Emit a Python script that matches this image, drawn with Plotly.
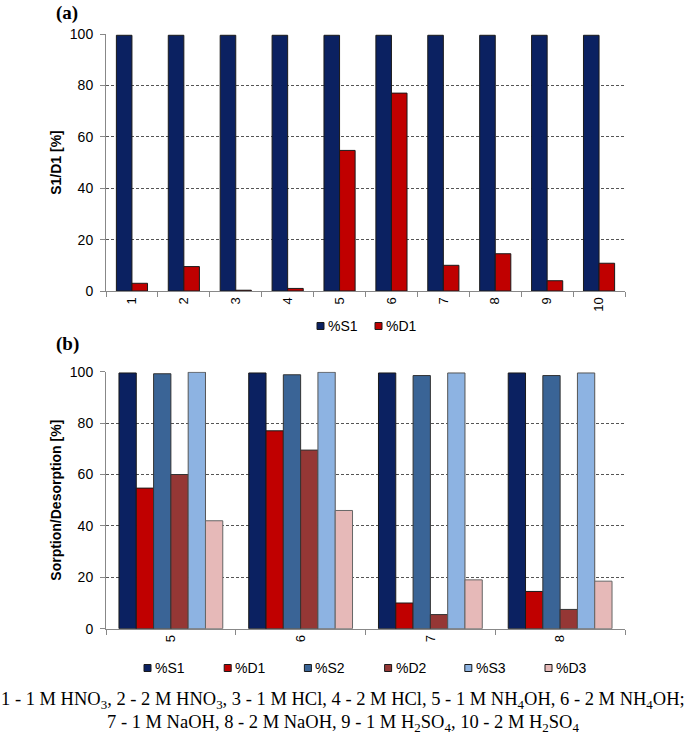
import plotly.graph_objects as go

# ---------------- data ----------------
cats_a = ["1", "2", "3", "4", "5", "6", "7", "8", "9", "10"]
s1_a = [99.5, 99.5, 99.5, 99.5, 99.5, 99.5, 99.5, 99.5, 99.5, 99.5]
d1_a = [3.0, 9.5, 0.3, 1.0, 54.7, 77.0, 10.0, 14.5, 4.0, 10.8]

cats_b = ["5", "6", "7", "8"]
s1_b = [99.5, 99.5, 99.5, 99.5]
d1_b = [54.7, 77.0, 10.0, 14.5]
s2_b = [99.2, 98.8, 98.5, 98.5]
d2_b = [60.0, 69.5, 5.5, 7.5]
s3_b = [99.8, 99.8, 99.5, 99.5]
d3_b = [42.0, 46.0, 19.0, 18.5]

names_a = ["%S1", "%D1"]
names_b = ["%S1", "%D1", "%S2", "%D2", "%S3", "%D3"]
yticks = [0, 20, 40, 60, 80, 100]

# ---------------- style ----------------
W, H = 685, 734
SANS = "Liberation Sans, Arial, sans-serif"
SERIF = "Liberation Serif, Times New Roman, serif"
COLORS = {"%S1": "#0b2161", "%D1": "#c00000", "%S2": "#3a6496",
          "%D2": "#953735", "%S3": "#8db3e2", "%D3": "#e6b9b8"}
OUTLINE = {"%S1": "#1a1a1a", "%D1": "#1a1a1a", "%S2": "#333333",
           "%D2": "#333333", "%S3": "#555555", "%D3": "#666666"}
GROUP_A = 0.6   # fraction of a category occupied by the bar group (top)
GROUP_B = 0.8   # same for bottom panel


def px_x(x):
    return x / W


def px_y(y):
    return 1 - y / H


fig = go.Figure()

bw_a = GROUP_A / len(names_a)
for i, (name, vals) in enumerate(zip(names_a, [s1_a, d1_a])):
    fig.add_trace(go.Bar(x=cats_a, y=vals, name=name, xaxis="x", yaxis="y", showlegend=False,
                         width=bw_a, offset=-GROUP_A / 2 + i * bw_a,
                         marker=dict(color=COLORS[name], line=dict(color=OUTLINE[name], width=1))))

bw_b = GROUP_B / len(names_b)
for i, (name, vals) in enumerate(zip(names_b, [s1_b, d1_b, s2_b, d2_b, s3_b, d3_b])):
    fig.add_trace(go.Bar(x=cats_b, y=vals, name=name, xaxis="x2", yaxis="y2", showlegend=False,
                         width=bw_b, offset=-GROUP_B / 2 + i * bw_b,
                         marker=dict(color=COLORS[name], line=dict(color=OUTLINE[name], width=1))))

xdom = [px_x(106), px_x(625)]
axis_common_x = dict(type="category", showline=True, linecolor="#888888", linewidth=1,
                     ticks="outside", tickson="boundaries", ticklen=5, tickcolor="#888888",
                     tickangle=-90, tickfont=dict(family=SANS, size=13, color="black"),
                     showgrid=False, zeroline=False, domain=xdom, automargin=False)
axis_common_y = dict(range=[0, 100], tickvals=yticks, showline=True, linecolor="#888888", linewidth=1,
                     ticks="outside", ticklen=5, tickcolor="#888888",
                     tickfont=dict(family=SANS, size=14, color="black"), ticklabelstandoff=4,
                     showgrid=True, gridcolor="#555555", gridwidth=1, griddash="3px,2px",
                     zeroline=False, automargin=False)

fig.update_layout(
    width=W, height=H, autosize=False,
    margin=dict(l=0, r=0, t=0, b=0, pad=0),
    paper_bgcolor="white", plot_bgcolor="white",
    barmode="overlay",
    showlegend=False,
    xaxis=dict(axis_common_x, anchor="y", range=[-0.5, len(cats_a) - 0.5]),
    yaxis=dict(axis_common_y, anchor="x", domain=[px_y(291), px_y(34)],
               title=dict(text="<b>S1/D1 [%]</b>", font=dict(family=SANS, size=14, color="black"), standoff=4)),
    xaxis2=dict(axis_common_x, anchor="y2", range=[-0.5, len(cats_b) - 0.5]),
    yaxis2=dict(axis_common_y, anchor="x2", domain=[px_y(628.7), px_y(371.7)],
                title=dict(text="<b>Sorption/Desorption [%]</b>", font=dict(family=SANS, size=14, color="black"), standoff=4)),
)

annotations = [
    dict(text="<b>(a)</b>", x=px_x(54), y=px_y(13), xanchor="left", yanchor="middle",
         font=dict(family=SERIF, size=19, color="black")),
    dict(text="<b>(b)</b>", x=px_x(54), y=px_y(344), xanchor="left", yanchor="middle",
         font=dict(family=SERIF, size=19, color="black")),
    dict(text="1 - 1 M HNO<sub>3</sub>, 2 - 2 M HNO<sub>3</sub>, 3 - 1 M HCl, 4 - 2 M HCl, 5 - 1 M NH<sub>4</sub>OH, 6 - 2 M NH<sub>4</sub>OH;",
         x=0.5, y=px_y(700), xanchor="center", yanchor="middle",
         font=dict(family=SERIF, size=18.5, color="black")),
    dict(text="7 - 1 M NaOH, 8 - 2 M NaOH, 9 - 1 M H<sub>2</sub>SO<sub>4</sub>, 10 - 2 M H<sub>2</sub>SO<sub>4</sub>",
         x=0.5, y=px_y(723), xanchor="center", yanchor="middle",
         font=dict(family=SERIF, size=18.5, color="black")),
]
shapes = []

# compact legends (small square key immediately followed by its label)
def add_legend(names, x0, step, yc):
    for i, name in enumerate(names):
        sx = x0 + i * step
        shapes.append(dict(type="rect", xref="paper", yref="paper",
                           x0=px_x(sx), x1=px_x(sx + 7), y0=px_y(yc + 3.5), y1=px_y(yc - 3.5),
                           fillcolor=COLORS[name], line=dict(color="#1a1a1a", width=1)))
        annotations.append(dict(text=name, x=px_x(sx + 9), y=px_y(yc), xanchor="left", yanchor="middle",
                                font=dict(family=SANS, size=14, color="black")))

add_legend(names_a, 317, 58, 326)
add_legend(names_b, 144, 80.2, 668)

for a in annotations:
    a.update(xref="paper", yref="paper", showarrow=False)
fig.update_layout(annotations=annotations, shapes=shapes)

fig.write_html("out.html", config={"displayModeBar": False},
               post_script="document.body.style.margin='0';document.body.style.overflow='hidden';")
